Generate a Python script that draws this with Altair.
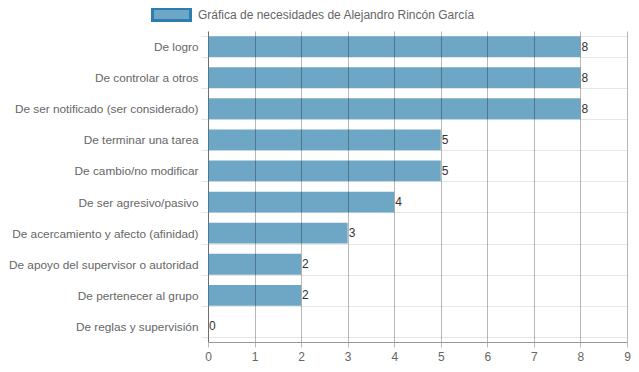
import altair as alt
import pandas as pd

categories = [
    "De logro",
    "De controlar a otros",
    "De ser notificado (ser considerado)",
    "De terminar una tarea",
    "De cambio/no modificar",
    "De ser agresivo/pasivo",
    "De acercamiento y afecto (afinidad)",
    "De apoyo del supervisor o autoridad",
    "De pertenecer al grupo",
    "De reglas y supervisión",
]
values = [8, 8, 8, 5, 5, 4, 3, 2, 2, 0]
x_ticks = [0, 1, 2, 3, 4, 5, 6, 7, 8, 9]
series_name = "Gráfica de necesidades de Alejandro Rincón García"

df = pd.DataFrame({"cat": categories, "val": values, "serie": [series_name] * len(values)})

FONT = "Liberation Sans"

y_enc = alt.Y(
    "cat:N",
    sort=categories,
    title=None,
    scale=alt.Scale(paddingInner=0.33, paddingOuter=0.165),
    axis=alt.Axis(
        tickBand="extent",
        grid=True,
        gridColor="#e6e6e6",
        tickColor="#e6e6e6",
        tickSize=7,
        domainColor="#999",
        labelColor="#666",
        labelFontSize=11.8,
        labelFont=FONT,
        labelPadding=3,
        labelLimit=300,
    ),
)

bars = alt.Chart(df).mark_bar(strokeWidth=0).encode(
    x=alt.X(
        "val:Q",
        title=None,
        scale=alt.Scale(domain=[0, 9], nice=False),
        axis=alt.Axis(
            values=x_ticks,
            labelOverlap=False,
            labelFlush=False,
            grid=True,
            gridColor="#000",
            gridOpacity=0.28,
            zindex=1,
            domainColor="#999",
            tickColor="#bbb",
            tickSize=5,
            labelColor="#666",
            labelFontSize=12,
            labelFont=FONT,
            labelPadding=4,
        ),
    ),
    y=y_enc,
    color=alt.Color(
        "serie:N",
        title=None,
        scale=alt.Scale(range=["#6ea7c5"]),
        legend=alt.Legend(
            orient="none",
            legendX=-57,
            legendY=-37,
            symbolType="M-1,-0.32H1V0.32H-1Z",
            symbolSize=1444,
            symbolStrokeColor="#2e7db0",
            symbolStrokeWidth=3,
            symbolFillColor="#6ea7c5",
            symbolOpacity=1,
            labelColor="#666",
            labelFontSize=12,
            labelFont=FONT,
            labelLimit=500,
            labelOffset=6,
        ),
    ),
)

labels = alt.Chart(df).mark_text(
    align="left", baseline="middle", dx=1, fontSize=12, font=FONT, color="#333"
).encode(
    x="val:Q",
    y=alt.Y("cat:N", sort=categories),
    text="val:Q",
)

chart = (
    alt.layer(bars, labels)
    .properties(
        width=419,
        height=311,
        padding={"left": 200, "top": 23, "right": 4, "bottom": 22},
        autosize=alt.AutoSizeParams(type="none"),
    )
    .configure_view(stroke=None)
)

chart.save("out.html", embed_options={"renderer": "svg", "actions": False})
